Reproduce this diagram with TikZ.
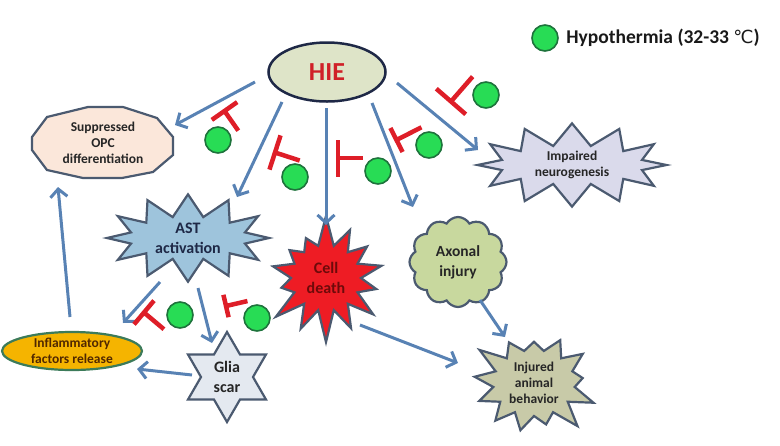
\documentclass[tikz,border=0pt]{standalone}
\usepackage{fontspec}
\setmainfont{Carlito}
\newfontfamily\symfont{DejaVu Sans}
\usepackage{tikz}
\usetikzlibrary{arrows.meta,calc,positioning,shapes.geometric,shapes.symbols,backgrounds}

\definecolor{arrowblue}{RGB}{88,130,180}
\definecolor{inhibred}{RGB}{222,30,40}
\definecolor{coolgreen}{RGB}{40,220,85}
\definecolor{cooledge}{RGB}{30,115,60}
\definecolor{hiefill}{RGB}{222,228,200}
\definecolor{hieedge}{RGB}{30,40,70}
\definecolor{hietext}{RGB}{208,32,40}
\definecolor{opcfill}{RGB}{251,231,218}
\definecolor{astfill}{RGB}{158,196,220}
\definecolor{neurofill}{RGB}{218,218,235}
\definecolor{deathfill}{RGB}{238,28,36}
\definecolor{deathtext}{RGB}{110,10,10}
\definecolor{axonfill}{RGB}{200,216,158}
\definecolor{behavfill}{RGB}{200,202,168}
\definecolor{gliafill}{RGB}{228,233,240}
\definecolor{inflfill}{RGB}{245,180,0}
\definecolor{infltext}{RGB}{80,40,0}
\definecolor{edgegray}{RGB}{75,90,112}

\tikzset{
  arr/.style={draw=arrowblue, line width=3pt, -{Straight Barb[length=8pt,width=17pt]}},
  tbar/.style={draw=inhibred, line width=4.5pt},
  cool/.style={circle, draw=cooledge, fill=coolgreen, line width=1.6pt, minimum size=26pt, inner sep=0pt},
  lbl/.style={font=\fontsize{13.5}{16}\selectfont\bfseries, align=center, text=black!85},
  bigl/.style={font=\fontsize{16}{20}\selectfont\bfseries, align=center, text=black!85},
  burst/.style={starburst, draw=edgegray, line width=2.2pt, inner sep=0pt},
}

\newcommand{\inhib}[5]{%
  \draw[tbar] (#1,#2) ++(#3+90:#4) -- ++(#3-90:{2*#4}) (#1,#2) -- ++(#3:#5);}

\begin{document}
\begin{tikzpicture}[x=1pt,y=-1pt]
    \useasboundingbox (0,0) rectangle (780,445);

    \node[ellipse, draw=hieedge, fill=hiefill, line width=2.5pt, minimum width=117pt, minimum height=59pt,
          text=hietext, font=\fontsize{26}{30}\selectfont\bfseries] (hie) at (327,72) {HIE};

    \node[lbl, minimum width=142pt, minimum height=71pt] (opc) at (103,143) {Suppressed\\OPC\\differentiation};
    \begin{scope}[on background layer]
        \draw[edgegray, fill=opcfill, line width=2.2pt]
            ($(opc)+(-15,-36)$) -- ($(opc)+(20,-36)$) -- ($(opc)+(54,-25)$) -- ($(opc)+(70,-6)$)
            -- ($(opc)+(70,12)$) -- ($(opc)+(50,29)$) -- ($(opc)+(19,35)$) -- ($(opc)+(-20,35)$)
            -- ($(opc)+(-56,27)$) -- ($(opc)+(-71,7)$) -- ($(opc)+(-71,-6)$) -- ($(opc)+(-56,-26)$) -- cycle;
    \end{scope}

    \node[burst, fill=neurofill, starburst points=12, starburst point height=22pt, random starburst=0,
          minimum width=189pt, minimum height=76pt, lbl] (neuro) at (572,165) {Impaired\\neurogenesis};
    \node[burst, fill=astfill, starburst points=12, starburst point height=22pt, random starburst=0,
          minimum width=162pt, minimum height=84pt, bigl, text=hieedge] (aster) at (188,238) {AST\\activation};
    \node[burst, fill=deathfill, starburst points=14, starburst point height=32pt, random starburst=7,
          minimum width=134pt, minimum height=130pt, bigl, text=deathtext] (cell) at (326,278) {Cell\\death};
    \node[cloud, draw=edgegray, fill=axonfill, line width=2.2pt, cloud puffs=12, cloud puff arc=120,
          minimum width=97pt, minimum height=90pt, inner sep=0pt,
          font=\fontsize{15.5}{20}\selectfont\bfseries, align=center, text=black!85] (axon) at (458,262) {Axonal\\injury};
    \node[burst, fill=behavfill, starburst points=13, starburst point height=26pt, random starburst=3,
          minimum width=134pt, minimum height=118pt, lbl] (behav) at (534,383) {Injured\\animal\\behavior};
    \node[star, star points=6, star point ratio=1.73, draw=edgegray, fill=gliafill, line width=2.2pt,
          minimum size=90pt, inner sep=0pt, bigl] (glia) at (227,377) {Glia\\scar};
    \node[ellipse, draw=edgegray!80!green, fill=inflfill, line width=2.2pt, minimum width=140pt,
          minimum height=38pt, inner sep=0pt, lbl, text=infltext] (infl) at (72,351) {Inflammatory\\factors release};

    \node[cool] (leg) at (545,38) {};
    \node[right=4pt of leg, font=\fontsize{19.5}{22}\selectfont\bfseries, text=black!90] (legtxt)
        {Hypothermia (32-33 {\symfont\mdseries\fontsize{18}{22}\selectfont ℃})};

    \draw[arr] ($(hie)+(-72,10)$) -- ($(opc)+(72,-18)$);
    \draw[arr] ($(hie)+(-45,30)$) -- ($(aster)+(49,-41)$);
    \draw[arr] ($(hie)+(-1,36)$) -- ($(cell)+(0,-53)$);
    \draw[arr] ($(hie)+(45,31)$) -- ($(axon)+(-45,-55)$);
    \draw[arr] ($(hie)+(70,11)$) -- ($(neuro)+(-94,-15)$);
    \draw[arr] ($(aster)+(-28,44)$) -- ($(infl)+(51,-28)$);
    \draw[arr] ($(aster)+(10,50)$) -- ($(glia)+(-15,-34)$);
    \draw[arr] ($(glia)+(-35,-2)$) -- ($(infl)+(65,18)$);
    \draw[arr] ($(infl)+(-2,-34)$) -- ($(opc)+(-45,44)$);
    \draw[arr] ($(cell)+(34,47)$) -- ($(behav)+(-76,-20)$);
    \draw[arr] ($(axon)+(22,38)$) -- ($(behav)+(-29,-46)$);

    \inhib{224.5}{111}{55}{15.5}{24}
    \inhib{275}{152.5}{18}{18}{26}
    \inhib{338}{158}{0}{18.5}{25}
    \inhib{396.5}{140}{-27}{13.5}{28}
    \inhib{451}{101.5}{-49}{19.5}{33}
    \inhib{144}{312.5}{40}{15.5}{26}
    \inhib{226}{306}{-13}{11.5}{22}

    \node[cool] (h1) at (218,140) {};
    \node[cool] (h2) at (295,177) {};
    \node[cool] (h3) at (378,171) {};
    \node[cool] (h4) at (429,145) {};
    \node[cool] (h5) at (486,95) {};
    \node[cool] (h6) at (180,315) {};
    \node[cool] (h7) at (257,318) {};
\end{tikzpicture}
\end{document}
